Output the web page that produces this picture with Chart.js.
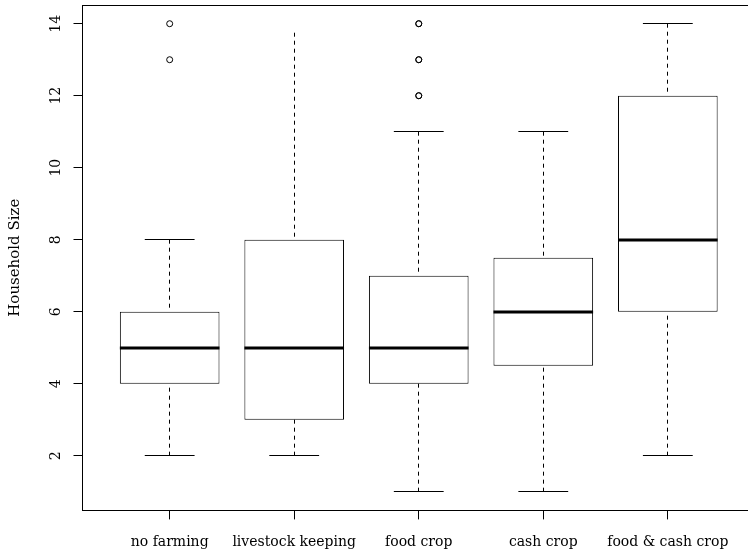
<!DOCTYPE html>
<html>
<head>
<meta charset="utf-8">
<script src="https://cdn.jsdelivr.net/npm/chart.js@4/dist/chart.umd.min.js"></script>
<style>
  html, body { margin: 0; padding: 0; background: #fff; overflow: hidden; }
  #wrap { width: 760px; height: 554px; }
</style>
</head>
<body>
<div id="wrap"><canvas id="chart"></canvas></div>
<script>
// categorias del eje x
const categories = ['no farming', 'livestock keeping', 'food crop', 'cash crop', 'food & cash crop'];

// estadisticos de cada caja
const lowerWhisker = [2, 2, 1, 1, 2];
const q1 = [4, 3, 4, 4.5, 6];
const median = [5, 5, 5, 6, 8];
const q3 = [6, 8, 7, 7.5, 12];
const upperWhisker = [8, 13.75, 11, 11, 14];

// valores atipicos (repetidos = puntos superpuestos)
const outliers = [[13, 14], [], [12, 12, 13, 13, 14, 14], [], []];

// marcas del eje y
const yTicks = [2, 4, 6, 8, 10, 12, 14];

const serif = '"DejaVu Serif", "Liberation Serif", serif';
const BOX_W = 0.8;    // ancho de caja en unidades del eje
const STAPLE_W = 0.4; // ancho del tope de bigote

const boxData = categories.map((c, i) => ({ x: i + 1, y: [q1[i], q3[i]] }));
const outlierData = [];
outliers.forEach((vals, i) => vals.forEach(v => outlierData.push({ x: i + 1, y: v })));

function al(v) { return Math.round(v - 0.5) + 0.5; }

// bigotes, medianas, marco y textos del eje y
const boxExtras = {
    id: 'boxExtras',
    afterDatasetsDraw(chart) {
        const { ctx, scales: { x, y } } = chart;
        ctx.save();
        ctx.strokeStyle = '#000';
        categories.forEach((c, i) => {
            const cx = x.getPixelForValue(i + 1);
            const sh = x.getPixelForValue(i + 1 + STAPLE_W / 2) - cx;
            const bh = x.getPixelForValue(i + 1 + BOX_W / 2) - cx;
            const px = al(cx);

            // bigotes punteados (desde el extremo hacia la caja)
            ctx.lineWidth = 1;
            ctx.setLineDash([4, 4]);
            ctx.beginPath();
            ctx.moveTo(px, y.getPixelForValue(lowerWhisker[i]));
            ctx.lineTo(px, y.getPixelForValue(q1[i]));
            ctx.moveTo(px, y.getPixelForValue(upperWhisker[i]));
            ctx.lineTo(px, y.getPixelForValue(q3[i]));
            ctx.stroke();
            ctx.setLineDash([]);

            // topes
            ctx.beginPath();
            const yl = al(y.getPixelForValue(lowerWhisker[i]));
            ctx.moveTo(cx - sh, yl);
            ctx.lineTo(cx + sh, yl);
            if (i !== 1) { // la caja "livestock keeping" no muestra tope superior
                const yu = al(y.getPixelForValue(upperWhisker[i]));
                ctx.moveTo(cx - sh, yu);
                ctx.lineTo(cx + sh, yu);
            }
            ctx.stroke();

            // mediana
            ctx.lineWidth = 3;
            ctx.beginPath();
            const ym = Math.round(y.getPixelForValue(median[i]));
            ctx.moveTo(cx - bh, ym);
            ctx.lineTo(cx + bh, ym);
            ctx.stroke();
        });
        ctx.restore();
    },
    afterDraw(chart) {
        const { ctx, chartArea: a, scales: { y } } = chart;
        ctx.save();
        // marco
        ctx.strokeStyle = '#000';
        ctx.lineWidth = 1;
        ctx.strokeRect(al(a.left), al(a.top), al(a.right) - al(a.left), al(a.bottom) - al(a.top));

        // etiquetas del eje y giradas
        ctx.fillStyle = '#000';
        ctx.font = '14px ' + serif;
        ctx.textAlign = 'center';
        ctx.textBaseline = 'middle';
        y.ticks.forEach(t => {
            ctx.save();
            ctx.translate(56, y.getPixelForValue(t.value));
            ctx.rotate(-Math.PI / 2);
            ctx.fillText(String(t.value), 0, 0);
            ctx.restore();
        });

        // titulo eje y
        ctx.font = '15px ' + serif;
        ctx.save();
        ctx.translate(15, (a.top + a.bottom) / 2);
        ctx.rotate(-Math.PI / 2);
        ctx.fillText('Household Size', 0, 0);
        ctx.restore();
        ctx.restore();
    }
};

new Chart(document.getElementById('chart'), {
    type: 'bar',
    data: {
        datasets: [{
            label: 'box',
            data: boxData,
            backgroundColor: '#fff',
            borderColor: '#000',
            borderWidth: 1,
            borderSkipped: false,
            categoryPercentage: BOX_W,
            barPercentage: 1
        }, {
            type: 'scatter',
            label: 'outliers',
            data: outlierData,
            pointStyle: 'circle',
            pointRadius: 3,
            borderColor: '#000',
            borderWidth: 1,
            backgroundColor: 'rgba(0,0,0,0)'
        }]
    },
    options: {
        responsive: true,
        maintainAspectRatio: false,
        animation: false,
        layout: { padding: { top: 5, right: 2.5, left: 0, bottom: 0 } },
        plugins: { legend: { display: false }, tooltip: { enabled: false } },
        scales: {
            x: {
                type: 'linear',
                offset: false,
                min: 0.3,
                max: 5.7,
                afterBuildTicks: s => { s.ticks = categories.map((c, i) => ({ value: i + 1 })); },
                ticks: {
                    callback: v => categories[v - 1],
                    font: { family: serif, size: 14 },
                    color: '#000',
                    padding: 15,
                    autoSkip: false,
                    maxRotation: 0
                },
                grid: { display: true, offset: false, drawOnChartArea: false, drawTicks: true, tickLength: 9, color: '#000' },
                border: { display: true, color: '#000' },
                afterFit: s => { s.height = 43.6; }
            },
            y: {
                min: 0.48,
                max: 14.52,
                afterBuildTicks: s => { s.ticks = yTicks.map(v => ({ value: v })); },
                ticks: { display: false },
                grid: { display: true, drawOnChartArea: false, drawTicks: true, tickLength: 9, color: '#000' },
                border: { display: true, color: '#000' },
                afterFit: s => { s.width = 82.5; }
            }
        }
    },
    plugins: [boxExtras]
});
</script>
</body>
</html>
